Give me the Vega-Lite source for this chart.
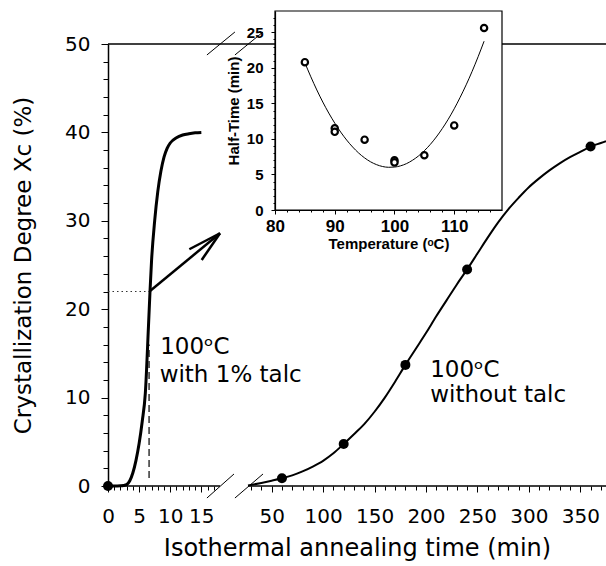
{
  "$schema": "https://vega.github.io/schema/vega-lite/v6.json",
  "width": 498,
  "height": 442,
  "autosize": {"type": "none"},
  "padding": {"left": 108, "top": 44, "right": 0, "bottom": 80},
  "background": "white",
  "config": {
    "view": {"stroke": null},
    "axis": {
      "grid": false,
      "labelColor": "black",
      "titleColor": "black",
      "tickColor": "black",
      "domainColor": "black",
      "labelFont": "DejaVu Sans",
      "titleFont": "DejaVu Sans",
      "titleFontWeight": "normal",
      "labelFlush": false,
      "labelOverlap": false
    }
  },
  "datasets": {
    "talc": [
      {"t": 0, "X": 0}, {"t": 1, "X": 0}, {"t": 2, "X": 0.02}, {"t": 2.5, "X": 0.05},
      {"t": 3, "X": 0.15}, {"t": 3.5, "X": 0.6}, {"t": 4, "X": 1.5}, {"t": 4.5, "X": 2.9},
      {"t": 5, "X": 4.8}, {"t": 5.5, "X": 7.3}, {"t": 6, "X": 10.5}, {"t": 6.5, "X": 18.0},
      {"t": 6.75, "X": 22.0}, {"t": 7, "X": 25.5}, {"t": 7.5, "X": 30.0}, {"t": 8, "X": 33.3},
      {"t": 8.5, "X": 35.6}, {"t": 9, "X": 37.2}, {"t": 9.5, "X": 38.2}, {"t": 10, "X": 38.8},
      {"t": 11, "X": 39.4}, {"t": 12, "X": 39.7}, {"t": 13, "X": 39.85}, {"t": 14, "X": 39.95},
      {"t": 15, "X": 40}
    ],
    "notalc": [
      {"t": 27, "X": 0.05}, {"t": 40, "X": 0.35}, {"t": 50, "X": 0.6}, {"t": 60, "X": 0.87},
      {"t": 70, "X": 1.2}, {"t": 80, "X": 1.65}, {"t": 90, "X": 2.2}, {"t": 100, "X": 2.85},
      {"t": 110, "X": 3.7}, {"t": 120, "X": 4.75}, {"t": 130, "X": 5.85}, {"t": 140, "X": 7.0},
      {"t": 150, "X": 8.4}, {"t": 160, "X": 10.0}, {"t": 170, "X": 11.8}, {"t": 180, "X": 13.7},
      {"t": 190, "X": 15.5}, {"t": 200, "X": 17.3}, {"t": 210, "X": 19.2}, {"t": 220, "X": 21.0},
      {"t": 230, "X": 22.8}, {"t": 240, "X": 24.5}, {"t": 250, "X": 26.3}, {"t": 260, "X": 28.1},
      {"t": 270, "X": 29.8}, {"t": 280, "X": 31.3}, {"t": 290, "X": 32.6}, {"t": 300, "X": 33.8},
      {"t": 310, "X": 34.8}, {"t": 320, "X": 35.7}, {"t": 330, "X": 36.5}, {"t": 340, "X": 37.2},
      {"t": 350, "X": 37.8}, {"t": 360, "X": 38.4}, {"t": 370, "X": 38.8}, {"t": 375, "X": 39.0}
    ],
    "dots": [
      {"t": 0, "X": 0}, {"t": 60, "X": 0.87}, {"t": 120, "X": 4.75},
      {"t": 180, "X": 13.7}, {"t": 240, "X": 24.5}, {"t": 360, "X": 38.4}
    ],
    "axislines": [
      {"t": 0, "t2": 18, "X": 0, "X2": 0},
      {"t": 27, "t2": 375, "X": 0, "X2": 0},
      {"t": 0, "t2": 375, "X": 50, "X2": 50}
    ],
    "breaks": [
      {"t": 15.9, "t2": 22.5, "X": -1.36, "X2": 1.36},
      {"t": 22.8, "t2": 41.6, "X": -1.36, "X2": 1.36},
      {"t": 15.9, "t2": 22.8, "X": 48.76, "X2": 51.36},
      {"t": 22.8, "t2": 41.6, "X": 48.76, "X2": 51.36}
    ],
    "dashed": [{"t": 6.6, "t2": 6.6, "X": 0.9, "X2": 16}],
    "dotted": [{"t": 0, "t2": 6.75, "X": 22, "X2": 22}],
    "arrow": [
      {"t": 6.75, "t2": 18.0, "X": 22.06, "X2": 28.59},
      {"t": 13.07, "t2": 18.0, "X": 26.78, "X2": 28.59},
      {"t": 15.06, "t2": 18.0, "X": 25.57, "X2": 28.59}
    ],
    "labels": [
      {"t": 8.39, "X": 14.93, "label": "100ᵒC"},
      {"t": 8.3, "X": 11.8, "label": "with 1% talc"},
      {"t": 204.1, "X": 12.36, "label": "100ᵒC"},
      {"t": 204.1, "X": 9.54, "label": "without talc"}
    ],
    "frame": [{"T": 80, "T2": 118, "H": 0, "H2": 28}],
    "fit": [
      {"T": 85, "H": 20.72}, {"T": 86, "H": 18.74}, {"T": 87, "H": 16.89}, {"T": 88, "H": 15.19},
      {"T": 89, "H": 13.64}, {"T": 90, "H": 12.23}, {"T": 91, "H": 10.96}, {"T": 92, "H": 9.84},
      {"T": 93, "H": 8.86}, {"T": 94, "H": 8.02}, {"T": 95, "H": 7.33}, {"T": 96, "H": 6.78},
      {"T": 97, "H": 6.38}, {"T": 98, "H": 6.12}, {"T": 99, "H": 6.01}, {"T": 100, "H": 6.04},
      {"T": 101, "H": 6.21}, {"T": 102, "H": 6.52}, {"T": 103, "H": 6.99}, {"T": 104, "H": 7.59},
      {"T": 105, "H": 8.34}, {"T": 106, "H": 9.23}, {"T": 107, "H": 10.27}, {"T": 108, "H": 11.45},
      {"T": 109, "H": 12.77}, {"T": 110, "H": 14.24}, {"T": 111, "H": 15.86}, {"T": 112, "H": 17.61},
      {"T": 113, "H": 19.51}, {"T": 114, "H": 21.56}, {"T": 115, "H": 23.75}
    ],
    "halftime": [
      {"T": 85, "H": 20.8}, {"T": 90, "H": 11.5}, {"T": 90, "H": 11.0}, {"T": 95, "H": 9.9},
      {"T": 100, "H": 7.0}, {"T": 100, "H": 6.7}, {"T": 105, "H": 7.7}, {"T": 110, "H": 11.9},
      {"T": 115, "H": 25.6}
    ]
  },
  "layer": [
    {
      "resolve": {"axis": {"x": "independent", "y": "independent"}},
      "layer": [
        {
          "data": {"name": "axislines"},
          "mark": {"type": "rule", "color": "black", "strokeWidth": 1.5},
          "encoding": {
            "x": {"field": "t", "type": "quantitative", "axis": null, "scale": {"domain": [0, 18, 27, 375], "range": [0, 112, 140, 498], "nice": false, "zero": false}},
            "x2": {"field": "t2"},
            "y": {"field": "X", "type": "quantitative", "axis": null, "scale": {"domain": [0, 50], "nice": false, "zero": false}},
            "y2": {"field": "X2"}
          }
        },
        {
          "data": {"name": "breaks"},
          "mark": {"type": "rule", "color": "black", "strokeWidth": 1},
          "encoding": {
            "x": {"field": "t", "type": "quantitative", "axis": null},
            "x2": {"field": "t2"},
            "y": {"field": "X", "type": "quantitative", "axis": null},
            "y2": {"field": "X2"}
          }
        },
        {
          "data": {"name": "dashed"},
          "mark": {"type": "rule", "color": "black", "strokeWidth": 1.2, "strokeDash": [7, 4]},
          "encoding": {
            "x": {"field": "t", "type": "quantitative", "axis": null},
            "x2": {"field": "t2"},
            "y": {"field": "X", "type": "quantitative", "axis": null},
            "y2": {"field": "X2"}
          }
        },
        {
          "data": {"name": "dotted"},
          "mark": {"type": "rule", "color": "#333", "strokeWidth": 1.2, "strokeDash": [1.5, 3]},
          "encoding": {
            "x": {"field": "t", "type": "quantitative", "axis": null},
            "x2": {"field": "t2"},
            "y": {"field": "X", "type": "quantitative", "axis": null},
            "y2": {"field": "X2"}
          }
        },
        {
          "data": {"name": "talc"},
          "mark": {"type": "line", "color": "black", "strokeWidth": 3, "interpolate": "monotone"},
          "encoding": {
            "x": {
              "field": "t", "type": "quantitative",
              "axis": {
                "orient": "bottom", "domain": false,
                "values": [0, 5, 10, 15, 50, 100, 150, 200, 250, 300, 350],
                "tickSize": 6, "labelFontSize": 20, "labelPadding": 14,
                "title": "Isothermal annealing time (min)", "titleFontSize": 24, "titlePadding": 10
              }
            },
            "y": {
              "field": "X", "type": "quantitative",
              "axis": {
                "orient": "left", "values": [0, 10, 20, 30, 40, 50], "domainWidth": 1.5,
                "tickSize": 7, "labelFontSize": 20, "labelPadding": 11,
                "title": "Crystallization Degree Xc  (%)", "titleFontSize": 23, "titlePadding": 29
              }
            }
          }
        },
        {
          "data": {"name": "notalc"},
          "mark": {"type": "line", "color": "black", "strokeWidth": 2, "interpolate": "monotone"},
          "encoding": {
            "x": {
              "field": "t", "type": "quantitative",
              "axis": {
                "orient": "bottom", "domain": false, "labels": false, "title": null, "tickSize": 4,
                "values": [1, 2, 3, 4, 6, 7, 8, 9, 11, 12, 13, 14, 16, 17, 30, 40, 60, 70, 80, 90, 110, 120, 130, 140, 160, 170, 180, 190, 210, 220, 230, 240, 260, 270, 280, 290, 310, 320, 330, 340, 360, 370]
              }
            },
            "y": {
              "field": "X", "type": "quantitative",
              "axis": {
                "orient": "left", "domain": false, "labels": false, "title": null, "tickSize": 5,
                "values": [2, 4, 6, 8, 12, 14, 16, 18, 22, 24, 26, 28, 32, 34, 36, 38, 42, 44, 46, 48]
              }
            }
          }
        },
        {
          "data": {"name": "arrow"},
          "mark": {"type": "rule", "color": "black", "strokeWidth": 2.5},
          "encoding": {
            "x": {"field": "t", "type": "quantitative", "axis": null},
            "x2": {"field": "t2"},
            "y": {"field": "X", "type": "quantitative", "axis": null},
            "y2": {"field": "X2"}
          }
        },
        {
          "data": {"name": "dots"},
          "mark": {"type": "point", "shape": "circle", "filled": true, "color": "black", "size": 100, "opacity": 1},
          "encoding": {
            "x": {"field": "t", "type": "quantitative", "axis": null},
            "y": {"field": "X", "type": "quantitative", "axis": null}
          }
        },
        {
          "data": {"name": "labels"},
          "mark": {"type": "text", "font": "DejaVu Sans", "fontSize": 23, "align": "left", "baseline": "alphabetic", "color": "black"},
          "encoding": {
            "x": {"field": "t", "type": "quantitative", "axis": null},
            "y": {"field": "X", "type": "quantitative", "axis": null},
            "text": {"field": "label"}
          }
        }
      ]
    },
    {
      "resolve": {"axis": {"x": "independent", "y": "independent"}},
      "layer": [
        {
          "data": {"name": "frame"},
          "mark": {"type": "rect", "fill": "white", "stroke": "black", "strokeWidth": 1.2},
          "encoding": {
            "x": {
              "field": "T", "type": "quantitative",
              "scale": {"domain": [80, 118], "range": [167, 394], "nice": false, "zero": false},
              "axis": {
                "orient": "bottom", "offset": -276, "zindex": 1, "values": [80, 90, 100, 110],
                "tickSize": 4, "domainWidth": 1.2,
                "labelFont": "Liberation Sans", "labelFontWeight": "bold", "labelFontSize": 17, "labelPadding": 4,
                "title": "Temperature (ᵒC)", "titleFont": "Liberation Sans", "titleFontWeight": "bold", "titleFontSize": 15, "titlePadding": 2
              }
            },
            "x2": {"field": "T2"},
            "y": {
              "field": "H", "type": "quantitative",
              "scale": {"domain": [0, 28], "range": [166, -33], "nice": false, "zero": false},
              "axis": {
                "orient": "left", "offset": -167, "zindex": 1, "values": [0, 5, 10, 15, 20, 25],
                "tickSize": 4, "domainWidth": 1.2,
                "labelFont": "Liberation Sans", "labelFontWeight": "bold", "labelFontSize": 15, "labelPadding": 8,
                "title": "Half-Time (min)", "titleFont": "Liberation Sans", "titleFontWeight": "bold", "titleFontSize": 15, "titlePadding": 5
              }
            },
            "y2": {"field": "H2"}
          }
        },
        {
          "data": {"name": "fit"},
          "mark": {"type": "line", "color": "black", "strokeWidth": 1, "interpolate": "monotone"},
          "encoding": {
            "x": {
              "field": "T", "type": "quantitative",
              "axis": {
                "orient": "bottom", "offset": -276, "zindex": 1, "domain": false, "labels": false, "title": null, "tickSize": 2,
                "values": [82, 84, 86, 88, 92, 94, 96, 98, 102, 104, 106, 108, 112, 114, 116]
              }
            },
            "y": {
              "field": "H", "type": "quantitative",
              "axis": {
                "orient": "left", "offset": -167, "zindex": 1, "domain": false, "labels": false, "title": null, "tickSize": 2,
                "values": [1, 2, 3, 4, 6, 7, 8, 9, 11, 12, 13, 14, 16, 17, 18, 19, 21, 22, 23, 24, 26, 27]
              }
            }
          }
        },
        {
          "data": {"name": "halftime"},
          "mark": {"type": "point", "shape": "circle", "filled": false, "fill": "white", "stroke": "black", "strokeWidth": 2.2, "size": 40, "opacity": 1},
          "encoding": {
            "x": {"field": "T", "type": "quantitative", "axis": null},
            "y": {"field": "H", "type": "quantitative", "axis": null}
          }
        }
      ]
    }
  ],
  "resolve": {
    "scale": {"x": "independent", "y": "independent"},
    "axis": {"x": "independent", "y": "independent"}
  }
}
